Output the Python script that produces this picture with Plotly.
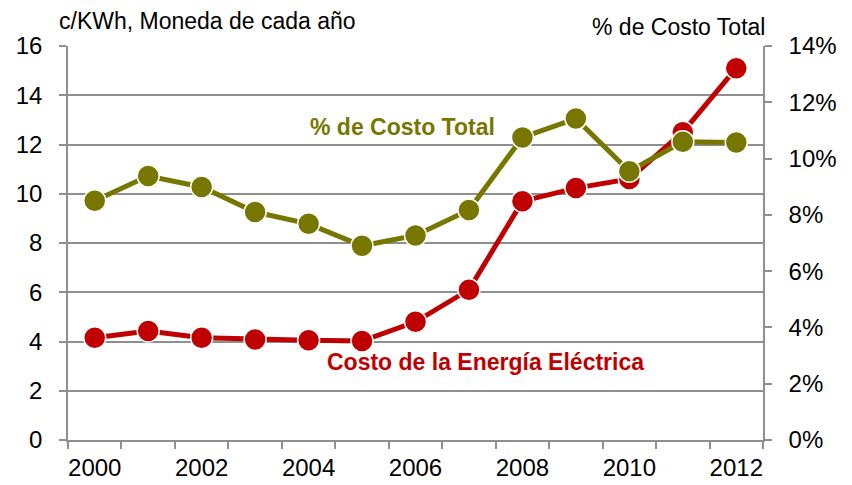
import plotly.graph_objects as go

years = list(range(2000, 2013))
costo_energia = [4.15, 4.43, 4.15, 4.08, 4.05, 4.02, 4.8, 6.1, 9.7, 10.23, 10.6, 12.5, 15.1]
pct_costo_total = [8.5, 9.38, 8.99, 8.1, 7.68, 6.9, 7.27, 8.17, 10.75, 11.42, 9.55, 10.6, 10.57]
x_ticklabels = ["2000", "2002", "2004", "2006", "2008", "2010", "2012"]
left_ticks = [0, 2, 4, 6, 8, 10, 12, 14, 16]
right_ticks = [0, 2, 4, 6, 8, 10, 12, 14]

RED = "#C00000"
OLIVE = "#777700"
GRID = "#8f8f8f"
FONT = "Liberation Sans, Arial, sans-serif"

fig = go.Figure()
fig.add_trace(go.Scatter(
    x=years, y=costo_energia, mode="lines+markers", yaxis="y",
    line=dict(color=RED, width=5),
    marker=dict(size=22, color=RED, line=dict(color="white", width=1.5)),
    showlegend=False,
))
fig.add_trace(go.Scatter(
    x=years, y=pct_costo_total, mode="lines+markers", yaxis="y2",
    line=dict(color=OLIVE, width=5),
    marker=dict(size=22, color=OLIVE, line=dict(color="white", width=1.5)),
    showlegend=False,
))

fig.update_layout(
    width=852, height=485,
    margin=dict(l=60, r=97, t=38, b=53),
    paper_bgcolor="white", plot_bgcolor="white",
    font=dict(family=FONT, size=24, color="black"),
    xaxis=dict(
        range=[1999.5, 2012.5], automargin=False,
        tickmode="array", tickvals=[int(v) for v in x_ticklabels], ticktext=x_ticklabels,
        ticks="", showgrid=False, zeroline=False,
        showline=True, linecolor=GRID, linewidth=1.5,
        ticklabelstandoff=5,
        minor=dict(tickmode="linear", tick0=1999.5, dtick=1, ticks="outside",
                   ticklen=7, tickcolor=GRID, tickwidth=1.5, showgrid=False),
        tickfont=dict(family=FONT, size=24),
    ),
    yaxis=dict(
        range=[0, 16], tickmode="array", tickvals=left_ticks, automargin=False,
        ticks="outside", ticklen=7, tickcolor=GRID, tickwidth=1.5,
        showgrid=True, gridcolor=GRID, gridwidth=1.5, zeroline=False,
        showline=True, linecolor=GRID, linewidth=1.5,
        ticklabelstandoff=12,
        tickfont=dict(family=FONT, size=24),
    ),
    yaxis2=dict(
        range=[0, 14], tickmode="array", tickvals=right_ticks, automargin=False,
        ticktext=[f"{v}%" for v in right_ticks],
        overlaying="y", side="right",
        ticks="outside", ticklen=7, tickcolor=GRID, tickwidth=1.5,
        showgrid=False, zeroline=False,
        showline=True, linecolor=GRID, linewidth=1.5,
        ticklabelstandoff=12,
        tickfont=dict(family=FONT, size=24),
    ),
    annotations=[
        dict(text="c/KWh, Moneda de cada año", xref="paper", yref="paper",
             x=-0.016, y=1.0, yshift=25, xanchor="left", yanchor="middle",
             showarrow=False, font=dict(family=FONT, size=23)),
        dict(text="% de Costo Total", xref="paper", yref="paper",
             x=1.006, y=1.0, yshift=19, xanchor="right", yanchor="middle",
             showarrow=False, font=dict(family=FONT, size=23)),
        dict(text="<b>% de Costo Total</b>", xref="x", yref="y",
             x=2005.76, y=12.71, xanchor="center", yanchor="middle",
             showarrow=False, font=dict(family=FONT, size=23, color=OLIVE)),
        dict(text="<b>Costo de la Energía Eléctrica</b>", xref="x", yref="y",
             x=2007.3, y=3.17, xanchor="center", yanchor="middle",
             showarrow=False, font=dict(family=FONT, size=23, color=RED)),
    ],
)

fig.write_html("out.html")
